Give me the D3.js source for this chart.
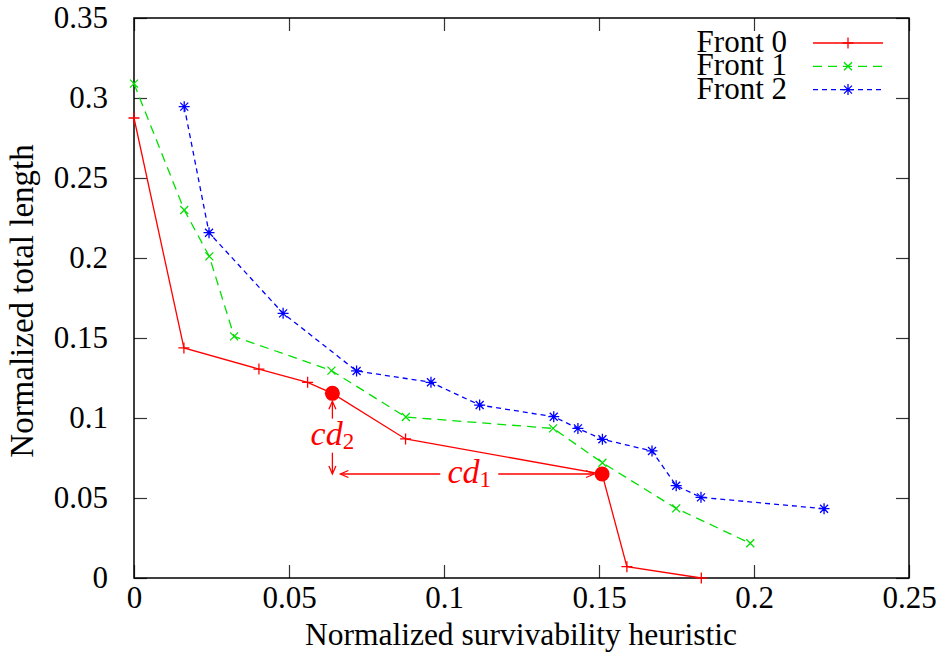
<!DOCTYPE html>
<html>
<head>
<meta charset="utf-8">
<script src="https://cdn.jsdelivr.net/npm/d3@7"></script>
<style>
  body { margin: 0; background: #fff; }
</style>
</head>
<body>
<svg id="chart"></svg>
<script>
// data
var front0X = [0, 0.0161, 0.0403, 0.056, 0.064, 0.0876, 0.151, 0.159, 0.183];
var front0Y = [0.2875, 0.1438, 0.1306, 0.1223, 0.1154, 0.0869, 0.065, 0.0071, 0];

var front1X = [0, 0.0162, 0.0243, 0.0323, 0.0637, 0.0877, 0.1352, 0.1511, 0.1749, 0.1988];
var front1Y = [0.309, 0.230, 0.201, 0.151, 0.1296, 0.1006, 0.0935, 0.072, 0.0435, 0.0217];

var front2X = [0.0162, 0.0242, 0.0481, 0.0718, 0.0958, 0.1115, 0.1354, 0.1432, 0.1511, 0.1671, 0.1749, 0.1829, 0.2226];
var front2Y = [0.2946, 0.2158, 0.1654, 0.1294, 0.1223, 0.1081, 0.1008, 0.0935, 0.0867, 0.0794, 0.0577, 0.0504, 0.0433];

// the two solutions used to illustrate crowding distance
var highlightX = [0.064, 0.151];
var highlightY = [0.1154, 0.065];

var xTicks = [0, 0.05, 0.1, 0.15, 0.2, 0.25];
var yTicks = [0, 0.05, 0.1, 0.15, 0.2, 0.25, 0.3, 0.35];
var seriesNames = ['Front 0', 'Front 1', 'Front 2'];

var config = { width: 939, height: 654, tick: 13, font: '"Liberation Serif"' };
var margin = { top: 18, right: 30, bottom: 76, left: 134 },
  width = config.width - margin.left - margin.right,
  height = config.height - margin.top - margin.bottom;

var svg = d3.select('#chart').attr('width', config.width).attr('height', config.height);
var g = svg.append('g').attr('transform', 'translate(' + margin.left + ',' + margin.top + ')');

var x = d3.scaleLinear().domain([0, 0.25]).range([0, width]);
var y = d3.scaleLinear().domain([0, 0.35]).range([height, 0]);
var fmt = function(d) { return d === 0 ? '0' : String(+d.toFixed(2)); };

// axes with inward ticks, mirrored on top/right like gnuplot
function styleAxis(sel) {
  sel.attr('font-family', null).attr('font-size', null);
  sel.select('.domain').remove();
  sel.selectAll('.tick line').attr('stroke', '#333').attr('stroke-width', 1.2);
  sel.selectAll('.tick text').style('font-size', '31px').attr('fill', '#000');
}
g.append('g').attr('transform', 'translate(0,' + height + ')')
  .call(d3.axisBottom(x).tickValues(xTicks).tickFormat(fmt).tickSizeInner(-config.tick).tickSizeOuter(0).tickPadding(8))
  .call(styleAxis);
g.append('g')
  .call(d3.axisLeft(y).tickValues(yTicks).tickFormat(fmt).tickSizeInner(-config.tick).tickSizeOuter(0).tickPadding(26))
  .call(styleAxis);
g.append('g')
  .call(d3.axisTop(x).tickValues(xTicks).tickFormat('').tickSizeInner(-config.tick).tickSizeOuter(0))
  .call(styleAxis);
g.append('g').attr('transform', 'translate(' + width + ',0)')
  .call(d3.axisRight(y).tickValues(yTicks).tickFormat('').tickSizeInner(-config.tick).tickSizeOuter(0))
  .call(styleAxis);

g.append('rect').attr('width', width).attr('height', height)
  .attr('fill', 'none').attr('stroke', '#000').attr('stroke-width', 1.5);

// axis titles
svg.append('text').attr('x', 521).attr('y', 645)
  .attr('text-anchor', 'middle').style('font-size', '31.5px').text('Normalized survivability heuristic');
svg.append('text').attr('transform', 'translate(33,301) rotate(-90)')
  .attr('text-anchor', 'middle').style('font-size', '33px').text('Normalized total length');

// point markers
function plusPath(s) { return 'M' + -s + ',0H' + s + 'M0,' + -s + 'V' + s; }
function crossPath(s) { return 'M' + -s + ',' + -s + 'L' + s + ',' + s + 'M' + -s + ',' + s + 'L' + s + ',' + -s; }
var markers = {
  plus: plusPath(5.5),
  cross: crossPath(4),
  star: plusPath(5.5) + crossPath(4)
};

var series = [
  { name: seriesNames[0], xs: front0X, ys: front0Y, color: '#ff0000', dash: null, marker: 'plus' },
  { name: seriesNames[1], xs: front1X, ys: front1Y, color: '#00e000', dash: '9,6', marker: 'cross' },
  { name: seriesNames[2], xs: front2X, ys: front2Y, color: '#0000ff', dash: '5,4', marker: 'star' }
];

var line = d3.line().x(function(d) { return x(d[0]); }).y(function(d) { return y(d[1]); });

series.slice().reverse().forEach(function(s) {
  var pts = d3.zip(s.xs, s.ys);
  g.append('path').datum(pts).attr('d', line)
    .attr('fill', 'none').attr('stroke', s.color).attr('stroke-width', 1.3)
    .attr('stroke-dasharray', s.dash);
  g.selectAll(null).data(pts).enter().append('path')
    .attr('transform', function(d) { return 'translate(' + x(d[0]) + ',' + y(d[1]) + ')'; })
    .attr('d', markers[s.marker])
    .attr('stroke', s.color).attr('stroke-width', 1.3).attr('fill', 'none');
});

// legend
var legend = g.append('g');
series.forEach(function(s, i) {
  var ly = 25 + i * 23.3;
  legend.append('text').attr('x', 787 - margin.left).attr('y', ly + 9)
    .attr('text-anchor', 'end').style('font-size', '31px').text(s.name);
  legend.append('line').attr('x1', 813 - margin.left).attr('x2', 883 - margin.left)
    .attr('y1', ly).attr('y2', ly)
    .attr('stroke', s.color).attr('stroke-width', 1.3).attr('stroke-dasharray', s.dash);
  legend.append('path').attr('transform', 'translate(' + (848 - margin.left) + ',' + ly + ')')
    .attr('d', markers[s.marker]).attr('stroke', s.color).attr('stroke-width', 1.3).attr('fill', 'none');
});

// crowding distance annotation
var red = '#ff0000';
var hx0 = x(highlightX[0]), hy0 = y(highlightY[0]);
var hx1 = x(highlightX[1]), hy1 = y(highlightY[1]);

svg.append('defs').append('marker')
  .attr('id', 'head').attr('viewBox', '-10 -5 12 10').attr('refX', 0).attr('refY', 0)
  .attr('markerWidth', 12).attr('markerHeight', 10).attr('markerUnits', 'userSpaceOnUse')
  .attr('orient', 'auto-start-reverse')
  .append('path').attr('d', 'M-8,-3.5L0,0L-8,3.5').attr('fill', 'none').attr('stroke', red).attr('stroke-width', 1.3);

var ann = g.append('g');
ann.append('line').attr('x1', hx0).attr('x2', hx0).attr('y1', hy0 + 8).attr('y2', hy1)
  .attr('stroke', red).attr('stroke-width', 1.3)
  .attr('marker-start', 'url(#head)').attr('marker-end', 'url(#head)');
ann.append('line').attr('x1', hx0 + 8).attr('x2', hx1 - 8).attr('y1', hy1).attr('y2', hy1)
  .attr('stroke', red).attr('stroke-width', 1.3)
  .attr('marker-start', 'url(#head)').attr('marker-end', 'url(#head)');

function label(cx, cy, sub, w, h) {
  ann.append('rect').attr('x', cx - w / 2).attr('y', cy - h / 2).attr('width', w).attr('height', h).attr('fill', '#fff');
  var t = ann.append('text').attr('x', cx).attr('y', cy + 9).attr('text-anchor', 'middle')
    .attr('fill', red).style('font-size', '34px').style('font-style', 'italic');
  t.append('tspan').text('cd');
  t.append('tspan').style('font-size', '23px').style('font-style', 'normal').attr('dy', 4).text(sub);
}
label(hx0, (hy0 + hy1) / 2 + 2, '2', 42, 34);
label((hx0 + hx1) / 2 + 2, hy1, '1', 58, 20);

g.selectAll('.dot').data(d3.zip(highlightX, highlightY)).enter().append('circle')
  .attr('cx', function(d) { return x(d[0]); }).attr('cy', function(d) { return y(d[1]); })
  .attr('r', 7.5).attr('fill', red);

// serif face for every label, forced over any outside stylesheet
svg.selectAll('text, tspan').style('font-family', config.font, 'important');
</script>
</body>
</html>
